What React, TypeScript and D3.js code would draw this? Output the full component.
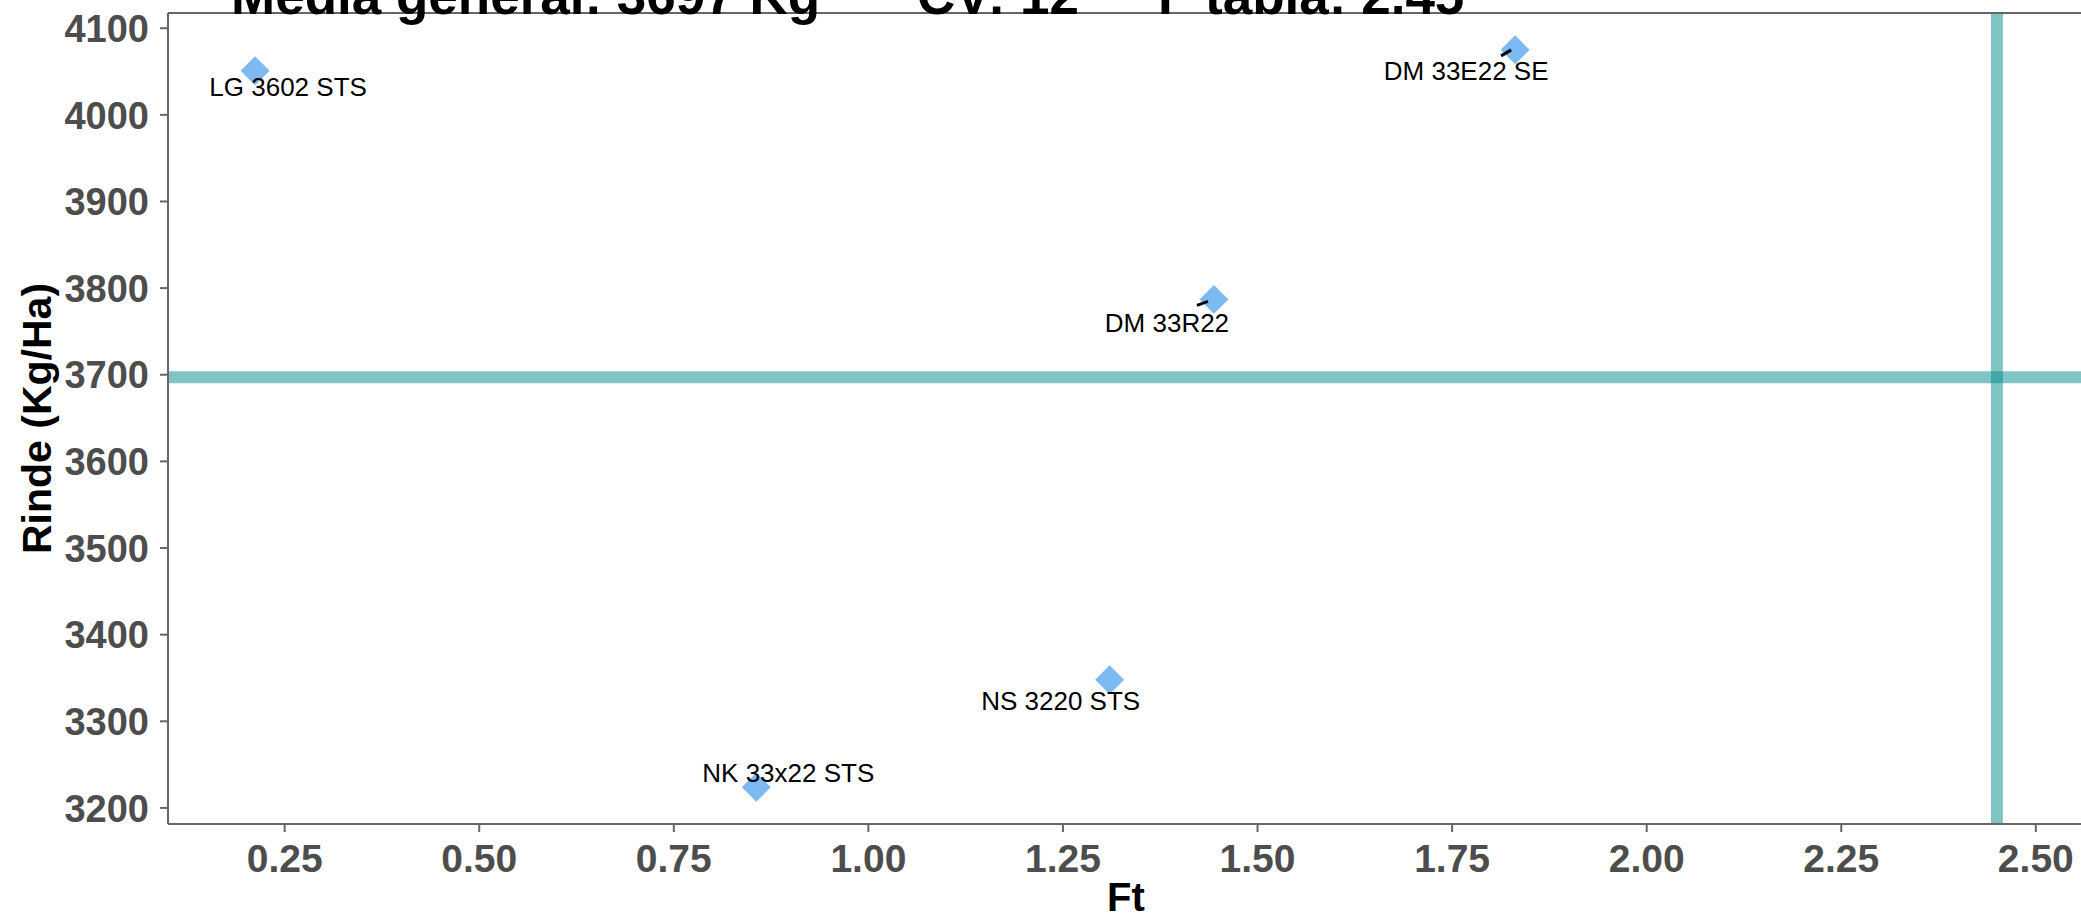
import React from "react";
import * as d3 from "d3";

const hybrids = ["LG 3602 STS", "DM 33E22 SE", "DM 33R22", "NS 3220 STS", "NK 33x22 STS"];
const ftValues = [0.212, 1.831, 1.444, 1.31, 0.856];
const yieldValues = [4051, 4075, 3787, 3348, 3224];
const meanYield = 3697;
const cvValue = 12;
const fTable = 2.45;
const xTicks = [0.25, 0.5, 0.75, 1.0, 1.25, 1.5, 1.75, 2.0, 2.25, 2.5];
const yTicks = [3200, 3300, 3400, 3500, 3600, 3700, 3800, 3900, 4000, 4100];

// label offsets (repel layout), in px relative to point: [dx center, dy baseline]
const labelOffsets: Record<string, [number, number]> = {
  "LG 3602 STS": [33, 25],
  "DM 33E22 SE": [-49, 30],
  "DM 33R22": [-47, 33],
  "NS 3220 STS": [-49, 30],
  "NK 33x22 STS": [32, -5],
};
const segments: Record<string, [number, number, number, number]> = {
  "DM 33E22 SE": [-14, 6, -4, 0],
  "DM 33R22": [-17, 6, -6, 2],
};

export default function App() {
  const W = 2081, H = 919;
  const left = 168, right = 2084, top = 13, bottom = 824;
  const xMin = d3.min(ftValues)!;
  const xMax = Math.max(d3.max(ftValues)!, fTable);
  const xr = xMax - xMin;
  const yMin = d3.min(yieldValues)!;
  const yMax = d3.max(yieldValues)!;
  const yr = yMax - yMin;
  const x = d3.scaleLinear().domain([xMin - 0.05 * xr, xMax + 0.05 * xr]).range([left, right]);
  const y = d3.scaleLinear().domain([yMin - 0.05 * yr, yMax + 0.05 * yr]).range([bottom, top]);
  const diamond = d3.symbol().type(d3.symbolSquare).size(420)()!;
  const font = "'Liberation Sans', Arial, Helvetica, sans-serif";
  const lineColor = "#008B8B";
  const axisGrey = "#4D4D4D";

  return (
    <svg width={W} height={H} style={{ position: "absolute", left: 0, top: 0, background: "#fff" }} fontFamily={font}>
      <rect x={0} y={0} width={W} height={H} fill="#fff" />
      {/* reference lines */}
      <line x1={left} x2={right} y1={y(meanYield)} y2={y(meanYield)} stroke={lineColor} strokeOpacity={0.5} strokeWidth={12} />
      <line x1={x(fTable)} x2={x(fTable)} y1={top} y2={bottom} stroke={lineColor} strokeOpacity={0.5} strokeWidth={12} />
      {/* panel border */}
      <line x1={left} x2={left} y1={top} y2={bottom} stroke="#666" strokeWidth={2} />
      <line x1={left} x2={W} y1={bottom} y2={bottom} stroke="#666" strokeWidth={2} />
      <line x1={left} x2={W} y1={top} y2={top} stroke="#666" strokeWidth={2} />
      {/* y ticks */}
      {yTicks.map((t) => (
        <g key={"y" + t}>
          <line x1={left - 8} x2={left} y1={y(t)} y2={y(t)} stroke="#666" strokeWidth={2} />
          <text x={left - 19} y={y(t)} dy="0.36em" textAnchor="end" fontSize={38} fontWeight="bold" fill={axisGrey}>
            {t}
          </text>
        </g>
      ))}
      {/* x ticks */}
      {xTicks.map((t) => (
        <g key={"x" + t}>
          <line x1={x(t)} x2={x(t)} y1={bottom} y2={bottom + 8} stroke="#666" strokeWidth={2} />
          <text x={x(t)} y={bottom + 48} textAnchor="middle" fontSize={39} fontWeight="bold" fill={axisGrey}>
            {t.toFixed(2)}
          </text>
        </g>
      ))}
      {/* points */}
      {hybrids.map((h, i) => (
        <path key={"p" + h} d={diamond} transform={`translate(${x(ftValues[i])},${y(yieldValues[i])}) rotate(45)`} fill="#7DB9F2" />
      ))}
      {/* segments */}
      {hybrids.map((h, i) => {
        const s = segments[h];
        if (!s) return null;
        const px = x(ftValues[i]), py = y(yieldValues[i]);
        return <line key={"s" + h} x1={px + s[0]} y1={py + s[1]} x2={px + s[2]} y2={py + s[3]} stroke="#000" strokeWidth={3} />;
      })}
      {/* labels */}
      {hybrids.map((h, i) => {
        const o = labelOffsets[h];
        return (
          <text key={"l" + h} x={x(ftValues[i]) + o[0]} y={y(yieldValues[i]) + o[1]} textAnchor="middle" fontSize={26} fill="#000">
            {h}
          </text>
        );
      })}
      {/* axis titles */}
      <text x={(left + right) / 2} y={911} textAnchor="middle" fontSize={40} fontWeight="bold" fill="#000">Ft</text>
      <text transform={`translate(36,${(top + bottom) / 2}) rotate(-90)`} dy="0.36em" textAnchor="middle" fontSize={41} fontWeight="bold" fill="#000">
        Rinde (Kg/Ha)
      </text>
      {/* title */}
      <text y={14} fontSize={53} fontWeight="bold" fill="#000">
        <tspan x={231}>{`Media general: ${meanYield} Kg`}</tspan>
        <tspan x={917}>{`CV: ${cvValue}`}</tspan>
        <tspan x={1158}>{`F tabla: ${fTable}`}</tspan>
      </text>
    </svg>
  );
}
